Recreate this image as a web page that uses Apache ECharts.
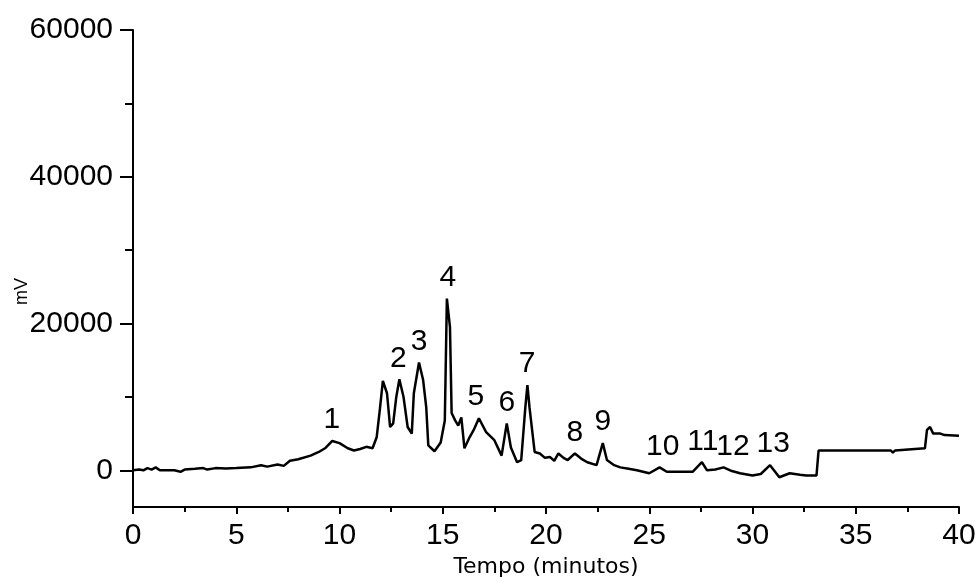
<!DOCTYPE html>
<html>
<head>
<meta charset="utf-8">
<script src="https://cdn.jsdelivr.net/npm/echarts@6/dist/echarts.min.js"></script>
<style>
html,body{margin:0;padding:0;background:#fff;}
#chart{width:978px;height:577px;}
</style>
</head>
<body>
<div id="chart"></div>
<script>
// Retention time (min)
var times = [0.0,0.3,0.5,0.7,0.9,1.1,1.3,2.0,2.3,2.5,3.0,3.4,3.6,4.0,4.5,5.0,5.7,6.2,6.5,7.0,7.3,7.6,8.0,8.6,9.0,9.3,9.65,10.0,10.4,10.7,11.0,11.3,11.6,11.8,11.96,12.1,12.3,12.45,12.6,12.75,12.9,13.1,13.3,13.5,13.6,13.85,14.05,14.2,14.3,14.6,14.9,15.1,15.2,15.35,15.43,15.6,15.75,15.9,16.05,16.3,16.5,16.75,17.1,17.5,17.85,18.1,18.3,18.6,18.8,19.0,19.1,19.2,19.45,19.7,19.95,20.2,20.4,20.6,20.85,21.05,21.4,21.7,22.0,22.45,22.75,22.95,23.3,23.6,24.0,24.4,25.0,25.5,25.85,27.1,27.55,27.8,28.2,28.6,29.0,29.4,30.0,30.4,30.85,31.3,31.8,32.3,32.6,33.1,33.2,36.7,36.8,36.9,38.35,38.45,38.6,38.75,39.1,39.3,40.0];
// Signal (mV)
var signal = [0,100,0,300,100,400,0,0,-200,100,200,300,100,300,250,300,400,700,500,800,600,1300,1500,2000,2500,3000,4000,3700,3000,2700,2900,3200,3000,4500,8450,12200,10500,5900,6400,10000,12400,10000,5900,5000,10500,14700,12300,8600,3400,2600,3800,6800,23400,19500,7800,6800,6100,7200,3000,4500,5500,7100,5200,4100,2000,6400,3100,1100,1400,8600,11600,8600,2500,2300,1700,1800,1300,2300,1700,1400,2300,1600,1100,700,3700,1400,700,400,200,0,-400,400,-200,-200,1100,0,100,400,-100,-400,-700,-500,700,-950,-400,-600,-700,-700,2700,2700,2400,2700,3000,5500,5900,5000,5000,4800,4700];
// Peak labels
var peakNames = ['1','2','3','4','5','6','7','8','9','10','11','12','13'];
var peakTimes = [9.63,12.85,13.85,15.25,16.6,18.1,19.08,21.4,22.75,25.65,27.6,29.05,31.0];
var peakValues = [4000,12400,14700,23400,7100,6400,11600,2300,3700,400,1100,400,700];
// Axis ticks
var yMajorTicks = [0,20000,40000,60000];
var yMinorTicks = [10000,30000,50000];

var lineData = times.map(function(t,i){return [t, signal[i]];});
var labelData = peakTimes.map(function(t,i){return {name: peakNames[i], value:[t, peakValues[i]]};});

var chart = echarts.init(document.getElementById('chart'), null, {renderer:'canvas'});
var font = 'Liberation Sans, Arial, sans-serif';
chart.setOption({
  backgroundColor:'#ffffff',
  animation:false,
  grid:{left:133, right:19, top:30, bottom:70, containLabel:false, outerBoundsMode:'none'},
  xAxis:{
    type:'value', min:0, max:40, interval:5,
    name:'Tempo (minutos)', nameLocation:'middle', nameGap:49, nameMoveOverlap:false,
    nameTextStyle:{color:'#000', fontSize:22, fontFamily:'DejaVu Sans, sans-serif'},
    axisLine:{show:true, onZero:false, lineStyle:{color:'#000', width:2}},
    axisTick:{show:true, inside:false, length:7, lineStyle:{color:'#000', width:2}},
    minorTick:{show:true, splitNumber:2, length:5, lineStyle:{color:'#000', width:2}},
    axisLabel:{color:'#000', fontSize:30, fontFamily:font, margin:14},
    splitLine:{show:false}
  },
  yAxis:[{
    type:'value', min:-5000, max:60000,
    name:'mV', nameLocation:'middle', nameGap:102, nameRotate:90, nameMoveOverlap:false,
    nameTextStyle:{color:'#000', fontSize:18, fontFamily:font, padding:[0,46,0,0]},
    axisLine:{show:true, onZero:false, lineStyle:{color:'#000', width:2}},
    axisTick:{show:true, length:13, customValues:yMajorTicks, lineStyle:{color:'#000', width:2}},
    axisLabel:{color:'#000', fontSize:30, fontFamily:font, margin:20, customValues:yMajorTicks,
      formatter:function(v){return String(v);}},
    splitLine:{show:false}
  },{
    type:'value', min:-5000, max:60000, position:'left',
    axisLine:{show:false},
    axisTick:{show:true, length:8, customValues:yMinorTicks, lineStyle:{color:'#000', width:2}},
    axisLabel:{show:false, customValues:yMinorTicks},
    splitLine:{show:false}
  }],
  series:[{
    type:'line', data:lineData, yAxisIndex:0,
    showSymbol:false, symbol:'none', smooth:false,
    lineStyle:{color:'#000', width:2.5},
    z:3
  },{
    type:'scatter', data:labelData, yAxisIndex:0,
    symbolSize:0, silent:true,
    itemStyle:{opacity:1, color:'#000'},
    label:{show:true, position:'top', distance:6, formatter:'{b}', color:'#000', fontSize:30, fontFamily:font},
    z:4
  }]
});
</script>
</body>
</html>
